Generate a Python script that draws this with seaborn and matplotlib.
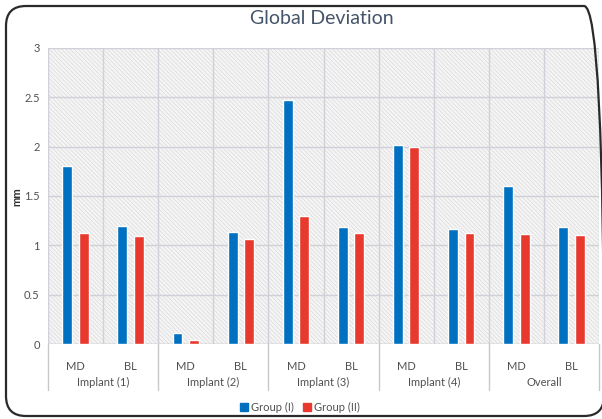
import matplotlib
matplotlib.use("Agg")
import matplotlib.pyplot as plt
import matplotlib.transforms as mtransforms
import seaborn as sns
import pandas as pd
from matplotlib.patches import Rectangle, FancyBboxPatch
from matplotlib.lines import Line2D

implants = ["Implant (1)", "Implant (2)", "Implant (3)", "Implant (4)", "Overall"]
sites = ["MD", "BL"]
group_names = ["Group (I)", "Group (II)"]
group1 = [1.80, 1.20, 0.11, 1.14, 2.47, 1.19, 2.02, 1.17, 1.60, 1.19]
group2 = [1.12, 1.09, 0.04, 1.06, 1.30, 1.13, 2.00, 1.13, 1.11, 1.10]
y_ticks = [0, 0.5, 1, 1.5, 2, 2.5, 3]
y_tick_labels = ["0", "0.5", "1", "1.5", "2", "2.5", "3"]

BLUE = "#0070c0"
RED = "#e8392f"
GRID = "#d0d1d8"
TXT = "#505050"

sns.set_theme(style="white")
plt.rcParams["font.family"] = ["Lato", "DejaVu Sans"]
plt.rcParams["hatch.linewidth"] = 0.5

cats = [f"{imp}|{s}" for imp in implants for s in sites]
df = pd.DataFrame({
    "cat": cats * 2,
    "value": group1 + group2,
    "group": [group_names[0]] * len(cats) + [group_names[1]] * len(cats),
})

fig = plt.figure(figsize=(6.02, 4.19), dpi=100)
ax = fig.add_axes([48 / 602, 75 / 419, 551 / 602, 296 / 419])

# hatched background
ax.set_facecolor("#f5f5f5")
bg = Rectangle((0, 0), 1, 1, transform=ax.transAxes, facecolor="none",
               edgecolor="#d9d9d9", hatch="\\\\\\\\\\\\\\\\", lw=0, zorder=0.1)
ax.add_patch(bg)

sns.barplot(data=df, x="cat", y="value", hue="group", order=cats,
            hue_order=group_names, palette=[BLUE, RED], width=0.6, gap=0.4,
            saturation=1, errorbar=None, legend=False, ax=ax, zorder=3)

ax.set_xlim(-0.5, len(cats) - 0.5)
ax.set_ylim(0, 3)
ax.set_yticks(y_ticks)
ax.set_yticklabels(y_tick_labels)
ax.set_xticks(range(len(cats)))
ax.set_xticklabels([c.split("|")[1] for c in cats])
ax.set_xticks([i - 0.5 for i in range(len(cats) + 1)], minor=True)
ax.set_axisbelow(True)
ax.grid(axis="y", which="major", color=GRID, lw=1, zorder=1)
ax.grid(axis="x", which="minor", color=GRID, lw=1, zorder=1)
ax.grid(axis="x", which="major", visible=False)
ax.tick_params(axis="both", which="both", length=0)
ax.tick_params(axis="x", pad=12, labelsize=8, labelcolor=TXT)
ax.tick_params(axis="y", pad=6, labelsize=8, labelcolor=TXT)
for s in ax.spines.values():
    s.set_visible(False)
ax.set_xlabel("")
ax.set_ylabel("")
ax.axhline(0, color="#c8c8c8", lw=1, zorder=2)

# group labels and separators
trans = mtransforms.blended_transform_factory(ax.transData, ax.transAxes)
for i, imp in enumerate(implants):
    ax.text(2 * i + 0.5, -38 / 296, imp, transform=trans, ha="center",
            va="center", fontsize=8, color=TXT)
for i in range(len(implants) + 1):
    ax.add_line(Line2D([2 * i - 0.5, 2 * i - 0.5], [0, -46 / 296],
                       transform=trans, color="#c8c8c8", lw=1, clip_on=False))

fig.text(17 / 602, 1 - 197 / 419, "mm", rotation=90, ha="center",
         va="center", fontsize=8, fontweight="bold", color="#303030")
fig.text(322 / 602, 1 - 19 / 419, "Global Deviation", ha="center",
         va="center", fontsize=14, color="#44546a")

handles = [Rectangle((0, 0), 1, 1, color=BLUE), Rectangle((0, 0), 1, 1, color=RED)]
fig.legend(handles, group_names, loc="center", bbox_to_anchor=(300 / 602, 1 - 407 / 419),
           ncol=2, frameon=False, fontsize=8, handlelength=0.7, handleheight=0.7,
           columnspacing=0.8, handletextpad=0.3, labelcolor=TXT)

border = FancyBboxPatch((0.06, 0.03), 5.98, 4.10,
                        boxstyle="round,pad=0,rounding_size=0.2",
                        transform=fig.dpi_scale_trans, facecolor="none",
                        edgecolor="#2a2a2a", lw=1.6)
fig.add_artist(border)

fig.savefig("out.png", dpi=100)
